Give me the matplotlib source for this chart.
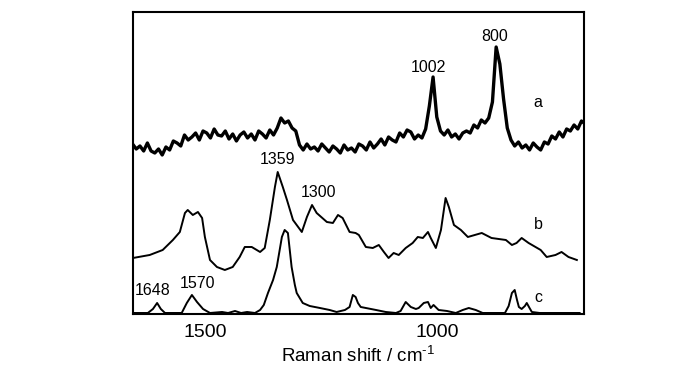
import numpy as np
import matplotlib
matplotlib.use("Agg")
from matplotlib import pyplot as plt

plt.rcParams["font.family"] = ["Liberation Sans", "DejaVu Sans"]
plt.rcParams["mathtext.fontset"] = "custom"
plt.rcParams["mathtext.rm"] = "Liberation Sans"
plt.rcParams["mathtext.default"] = "regular"

# spectrum a (noisy), sampled every 8 cm-1 from 1656 down to 680
shift_a = np.arange(1656, 679, -8)
int_a = [170, 165, 168, 163, 171, 163, 161, 165, 159, 167,
         164, 173, 171, 168, 179, 174, 177, 181, 174, 183,
         181, 176, 185, 179, 178, 183, 175, 180, 173, 179,
         182, 176, 180, 174, 183, 180, 176, 184, 179, 186,
         196, 191, 193, 186, 183, 169, 164, 170, 165, 167,
         163, 170, 166, 162, 168, 165, 161, 169, 164, 166,
         162, 170, 168, 164, 172, 166, 170, 175, 169, 177,
         174, 172, 181, 177, 184, 182, 175, 179, 176, 185,
         208, 237, 197, 183, 179, 184, 177, 180, 175, 181,
         183, 181, 189, 186, 194, 191, 196, 212, 267, 250,
         215, 186, 174, 168, 172, 166, 169, 164, 171, 167,
         164, 172, 170, 178, 175, 182, 177, 185, 183, 189,
         185, 193, 190]

# spectrum b
shift_b = [1655, 1619, 1591, 1569, 1554, 1543, 1537, 1526, 1515, 1506,
           1500, 1489, 1474, 1457, 1440, 1425, 1414, 1399, 1381, 1371,
           1360, 1349, 1343, 1332, 1323, 1310, 1291, 1280, 1269, 1259,
           1237, 1224, 1213, 1203, 1188, 1175, 1168, 1153, 1138, 1125,
           1114, 1104, 1093, 1082, 1067, 1052, 1041, 1030, 1019, 1013,
           1002, 991, 981, 974, 963, 948, 933, 903, 882, 851,
           838, 828, 817, 802, 776, 763, 744, 731, 716, 698]
int_b = [56, 59, 64, 74, 82, 101, 104, 99, 102, 96,
         77, 54, 47, 44, 47, 57, 67, 67, 62, 66,
         94, 127, 142, 127, 114, 94, 82, 97, 109, 101,
         92, 91, 99, 96, 82, 81, 79, 67, 66, 69,
         62, 56, 61, 59, 66, 71, 77, 76, 82, 76,
         66, 84, 116, 107, 89, 84, 77, 81, 76, 74,
         69, 71, 76, 71, 64, 57, 59, 62, 57, 54]

# spectrum c
shift_c = [1655, 1623, 1612, 1603, 1595, 1586, 1550, 1539, 1528, 1517,
           1504, 1489, 1463, 1450, 1435, 1422, 1409, 1392, 1381, 1373,
           1364, 1353, 1345, 1338, 1334, 1328, 1321, 1317, 1313, 1306,
           1302, 1289, 1274, 1252, 1231, 1216, 1198, 1188, 1181, 1175,
           1170, 1164, 1153, 1131, 1110, 1088, 1078, 1067, 1056, 1045,
           1039, 1028, 1019, 1013, 1007, 996, 978, 959, 944, 931,
           916, 901, 875, 853, 845, 838, 832, 827, 823, 817,
           810, 806, 800, 795, 778, 735, 692]
int_c = [1, 1, 5, 11, 5, 1, 1, 11, 19, 12,
         5, 1, 2, 1, 3, 1, 2, 1, 4, 9,
         21, 34, 47, 66, 77, 84, 81, 64, 47, 29,
         21, 11, 8, 6, 4, 2, 4, 7, 19, 17,
         11, 7, 6, 4, 2, 1, 3, 12, 7, 5,
         6, 11, 12, 6, 9, 4, 3, 1, 4, 6,
         4, 1, 1, 1, 8, 21, 24, 14, 7, 5,
         8, 11, 6, 2, 1, 1, 1]

# peak labels: (text, shift, intensity)
peak_labels = [("1002", 1019, 246), ("800", 875, 277), ("1359", 1343, 154),
               ("1300", 1256, 121), ("1648", 1612, 23), ("1570", 1515, 30)]
trace_labels = [("a", 782, 211), ("b", 782, 89), ("c", 782, 16)]

fig = plt.figure(figsize=(7.0, 3.75), dpi=100)
ax = fig.add_axes([0.19, 0.1627, 0.644, 0.8053])

ax.plot(shift_a, int_a, color="black", lw=2.4)
ax.plot(shift_b, int_b, color="black", lw=1.4)
ax.plot(shift_c, int_c, color="black", lw=1.4)

for txt, x, y in peak_labels + trace_labels:
    ax.text(x, y, txt, ha="center", va="center", fontsize=11.5,
            family=["Liberation Sans Narrow", "Liberation Sans"])

ax.set_xlim(1655, 683)
ax.set_ylim(0, 302)
ax.set_xticks([1500, 1000])
ax.set_yticks([])
ax.tick_params(axis="x", length=0, pad=7, labelsize=14)
ax.set_xlabel("Raman shift / cm$^{\u2010 1}$", fontsize=13.5, labelpad=4)
for sp in ax.spines.values():
    sp.set_linewidth(1.5)

fig.savefig("out.png", dpi=100)
